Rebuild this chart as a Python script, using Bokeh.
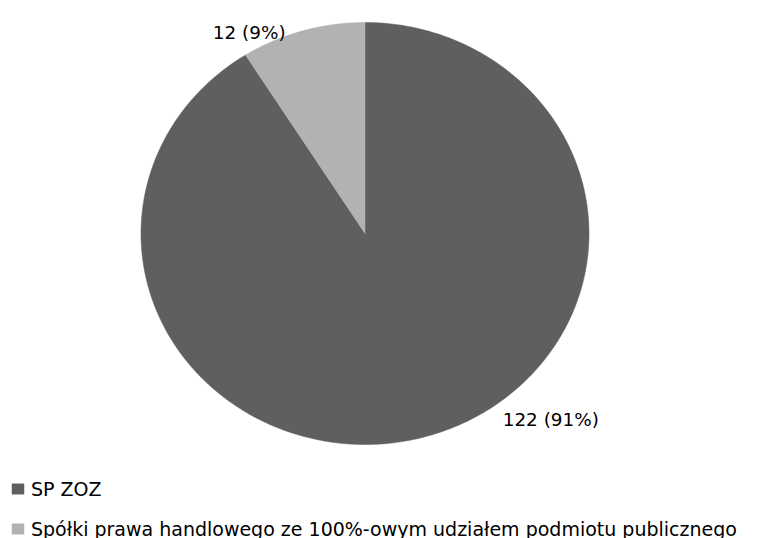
import numpy as np
from bokeh.plotting import figure
from bokeh.models import Range1d, Legend, LegendItem, ColumnDataSource
from bokeh.core.properties import value
from bokeh.embed import file_html
from bokeh.resources import INLINE

# ---- data ----
categories = ["SP ZOZ", "Spółki prawa handlowego ze 100%-owym udziałem podmiotu publicznego"]
counts = [122, 12]
colors = ["#5f5f5f", "#b2b2b2"]

# ---- layout (pixels) ----
W, H = 767, 538
CX, CY = 364.5, 233.0      # pie centre
RX, RY = 224.0, 211.0      # pie radii (slightly elliptical, as in the reference)
label_pos = [(550.3, 419.0), (248.7, 31.7)]   # baseline-centre of each data label
FONT = "DejaVu Sans"

total = sum(counts)
shares = [c / total for c in counts]
labels = [f"{c} ({round(s * 100)}%)" for c, s in zip(counts, shares)]

p = figure(width=W, height=H, output_backend="svg", toolbar_location=None,
           x_range=Range1d(0, W), y_range=Range1d(H, 0),
           min_border=0, min_border_left=0, min_border_right=0,
           min_border_top=0, min_border_bottom=0)
p.axis.visible = False
p.grid.visible = False
p.outline_line_color = None
p.background_fill_color = "white"
p.border_fill_color = "white"

# slices: clockwise from 12 o'clock
start = 0.0
renderers = []
for cat, share, col in zip(categories, shares, colors):
    end = start + share * 2 * np.pi
    t = np.linspace(start, end, 400)
    xs = np.concatenate([[CX], CX + RX * np.sin(t), [CX]])
    ys = np.concatenate([[CY], CY - RY * np.cos(t), [CY]])
    r = p.patch(xs, ys, fill_color=col, line_color=col, line_width=0.5)
    renderers.append(r)
    start = end

src = ColumnDataSource(dict(x=[lp[0] for lp in label_pos], y=[lp[1] for lp in label_pos], text=labels))
p.text(x="x", y="y", text="text", source=src, text_font=value(FONT),
       text_font_size="18.4px", text_color="#000000", text_align="center",
       text_baseline="alphabetic")

legend = Legend(items=[LegendItem(label=c, renderers=[r]) for c, r in zip(categories, renderers)],
                location=(10, -2.5), orientation="vertical",
                label_text_font=FONT, label_text_font_size="19px", label_text_color="#000000",
                glyph_width=15, glyph_height=13, label_standoff=6,
                label_height=24, spacing=16, padding=0, margin=0,
                border_line_alpha=0, background_fill_alpha=0)
p.add_layout(legend, "center")

open("out.html", "w").write(file_html(p, INLINE))
